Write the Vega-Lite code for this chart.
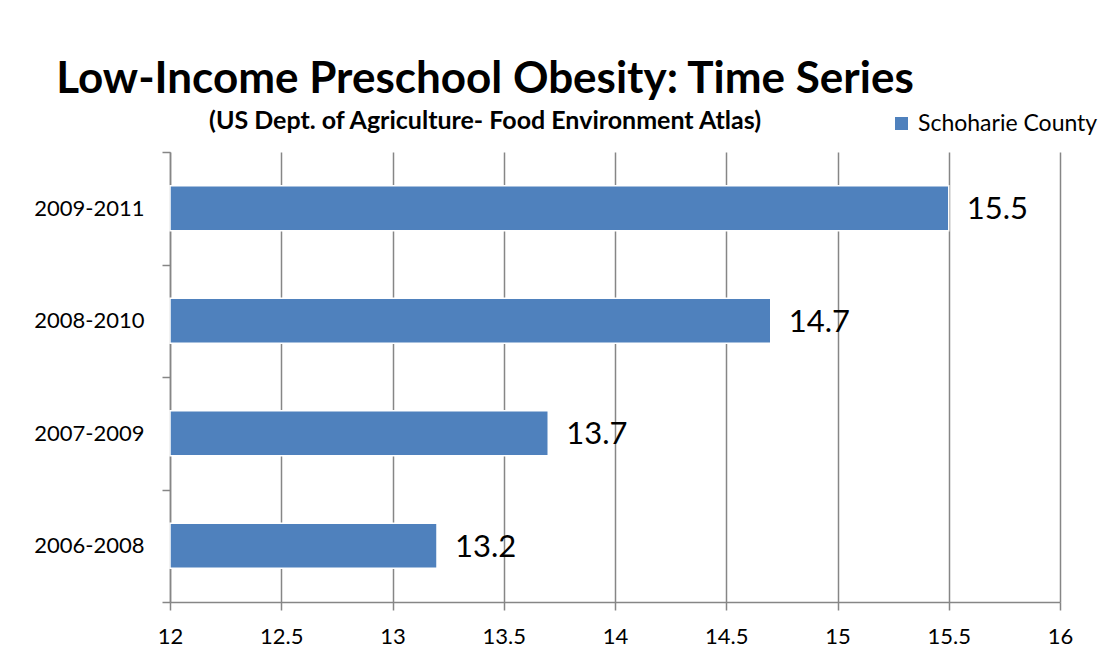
{
  "$schema": "https://vega.github.io/schema/vega-lite/v6.json",
  "width": 890,
  "height": 450,
  "autosize": {"type": "none"},
  "padding": {"left": 170, "top": 152, "right": 45, "bottom": 58},
  "background": "white",
  "config": {
    "view": {"stroke": null},
    "font": "Lato"
  },
  "title": {
    "text": "Low-Income Preschool Obesity: Time Series",
    "subtitle": "(US Dept. of Agriculture- Food Environment Atlas)",
    "anchor": "middle",
    "frame": "group",
    "dx": -130,
    "dy": 42,
    "offset": 20,
    "font": "Lato",
    "fontSize": 44,
    "fontWeight": "bold",
    "color": "black",
    "subtitleFont": "Lato",
    "subtitleFontSize": 25,
    "subtitleFontWeight": "bold",
    "subtitleColor": "black",
    "subtitlePadding": 7
  },
  "data": {
    "values": [
      {"period": "2006-2008", "value": 13.2, "series": "Schoharie County"},
      {"period": "2007-2009", "value": 13.7, "series": "Schoharie County"},
      {"period": "2008-2010", "value": 14.7, "series": "Schoharie County"},
      {"period": "2009-2011", "value": 15.5, "series": "Schoharie County"}
    ]
  },
  "encoding": {
    "y": {
      "field": "period",
      "type": "nominal",
      "sort": ["2009-2011", "2008-2010", "2007-2009", "2006-2008"],
      "scale": {"paddingInner": 0, "paddingOuter": 0},
      "axis": {
        "title": null,
        "tickBand": "extent",
        "tickSize": 8,
        "tickColor": "#868686",
        "tickWidth": 1.5,
        "domainColor": "#868686",
        "domainWidth": 1.5,
        "labelFont": "Lato",
        "labelFontSize": 22,
        "labelColor": "black",
        "labelPadding": 18,
        "grid": false
      }
    },
    "x": {
      "field": "value",
      "type": "quantitative",
      "scale": {"domain": [12, 16], "zero": false, "nice": false},
      "axis": {
        "title": null,
        "values": [12, 12.5, 13, 13.5, 14, 14.5, 15, 15.5, 16],
        "format": "~g",
        "tickSize": 8,
        "tickColor": "#868686",
        "tickWidth": 1.5,
        "domainColor": "#868686",
        "domainWidth": 1.5,
        "grid": true,
        "gridColor": "#868686",
        "gridWidth": 1.5,
        "labelFont": "Lato",
        "labelFontSize": 22,
        "labelColor": "black",
        "labelPadding": 16,
        "labelFlush": false
      }
    }
  },
  "layer": [
    {
      "mark": {"type": "bar", "stroke": "white", "strokeWidth": 1.5, "height": {"band": 0.4}},
      "encoding": {
        "x2": {"datum": 12},
        "color": {
          "field": "series",
          "type": "nominal",
          "scale": {"range": ["#4F81BD"]},
          "legend": {
            "title": null,
            "orient": "none",
            "legendX": 720,
            "legendY": -40,
            "symbolType": "square",
            "symbolSize": 169,
            "symbolStrokeWidth": 0,
            "labelFont": "Lato",
            "labelFontSize": 23,
            "labelColor": "black",
            "labelOffset": 5,
            "labelLimit": 400
          }
        }
      }
    },
    {
      "mark": {"type": "text", "align": "left", "baseline": "middle", "dx": 18, "dy": 2, "fontSize": 31, "font": "Lato", "color": "black"},
      "encoding": {
        "text": {"field": "value", "type": "quantitative", "format": ".1f"}
      }
    }
  ]
}
